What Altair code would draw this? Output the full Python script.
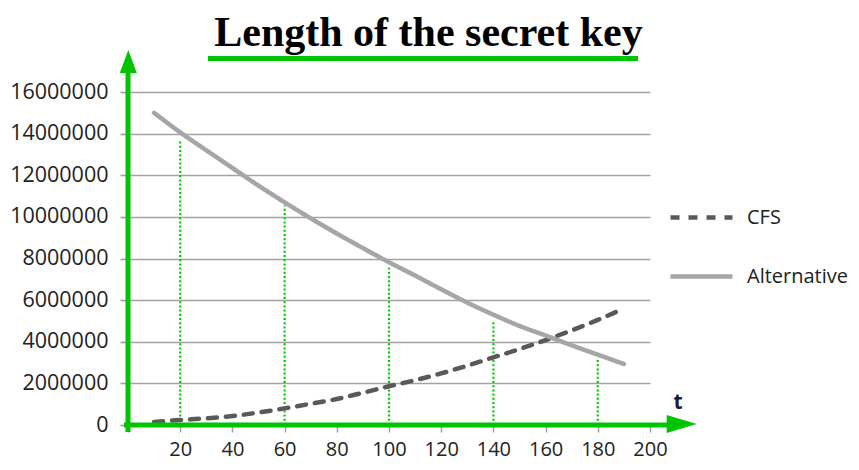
import altair as alt
import pandas as pd

# ---- data ----
t_vals = [10, 20, 30, 40, 50, 60, 70, 80, 90, 100, 110, 120, 130, 140, 150, 160, 170, 180, 190]
cfs_vals = [150000, 240000, 320000, 430000, 600000, 800000, 1020000, 1250000, 1550000, 1860000,
            2150000, 2480000, 2850000, 3250000, 3650000, 4080000, 4550000, 5050000, 5600000]
alt_vals = [15000000, 14060000, 13200000, 12350000, 11500000, 10700000, 9930000, 9200000, 8500000,
            7820000, 7180000, 6520000, 5880000, 5300000, 4760000, 4300000, 3830000, 3380000, 2930000]
series_names = ["CFS", "Alternative"]
guide_t = [20, 60, 100, 140, 180]
guide_top = [13700000, 10550000, 7550000, 5000000, 3120000]
x_ticks = [0, 20, 40, 60, 80, 100, 120, 140, 160, 180, 200]
y_ticks = [0, 2000000, 4000000, 6000000, 8000000, 10000000, 12000000, 14000000, 16000000]
title_text = "Length of the secret key"
axis_letter = "t"

GREEN = "#00c400"
GRID = "#a3a3a3"
LABEL = "#222222"

rows = []
for t, v in zip(t_vals, cfs_vals):
    rows.append({"t": t, "value": v, "series": "CFS"})
for t, v in zip(t_vals, alt_vals):
    rows.append({"t": t, "value": v, "series": "Alternative"})
df = pd.DataFrame(rows)
guides = pd.DataFrame({"t": guide_t, "value": [0] * len(guide_t), "top": guide_top})
one = pd.DataFrame({"k": [0]})

x_scale = alt.Scale(domain=[0, 200], nice=False, zero=False)
y_scale = alt.Scale(domain=[0, 16000000], nice=False)

x_axis = alt.Axis(values=x_ticks, title=None, grid=False, domain=False,
                  tickColor=GRID, tickSize=7, tickWidth=1.5,
                  labelExpr="datum.value == 0 ? '' : datum.label",
                  labelFont="Open Sans", labelFontSize=20, labelColor=LABEL,
                  labelPadding=7, labelFlush=False, labelOverlap=False)
y_axis = alt.Axis(values=y_ticks, format="d", title=None, domain=False,
                  grid=True, gridColor=GRID, gridWidth=1.7,
                  tickColor=GRID, tickSize=8, tickWidth=1.7,
                  labelFont="Open Sans", labelFontSize=21.5, labelColor=LABEL,
                  labelPadding=12, labelFlush=False, labelOverlap=False)

X = alt.X("t:Q", scale=x_scale, axis=x_axis)
Y = alt.Y("value:Q", scale=y_scale, axis=y_axis)

legend = alt.Legend(orient="none", legendX=540, legendY=92, symbolType="stroke",
                    symbolSize=3844, symbolStrokeWidth=4.5, labelFont="Open Sans",
                    labelFontSize=20, labelColor=LABEL, labelOffset=12,
                    rowPadding=15, padding=0, title=None)

guide_rules = alt.Chart(guides).mark_rule(color="#00cc00", strokeWidth=2.2, strokeDash=[2, 2.2]).encode(
    x=X, y=Y, y2="top:Q"
)

lines = alt.Chart(df).mark_line(strokeWidth=4.5, strokeCap="round", interpolate="monotone").encode(
    x=X, y=Y,
    color=alt.Color("series:N", scale=alt.Scale(domain=series_names, range=["#595959", "#a6a6a6"]),
                    legend=legend),
    strokeDash=alt.StrokeDash("series:N", scale=alt.Scale(domain=series_names, range=[[9, 9], [1, 0]]),
                              legend=legend),
)

y_axis_line = alt.Chart(one).mark_rule(color=GREEN, strokeWidth=5).encode(
    x=alt.value(0), y=alt.value(340), y2=alt.value(-19)
)
x_axis_line = alt.Chart(one).mark_rule(color=GREEN, strokeWidth=5).encode(
    x=alt.value(-4), x2=alt.value(540), y=alt.value(333)
)
up_head = alt.Chart(one).mark_point(shape="M0,-1L0.74,1L-0.74,1Z", filled=True, size=529,
                                    color=GREEN, opacity=1).encode(
    x=alt.value(0.3), y=alt.value(-30.5)
)
right_head = alt.Chart(one).mark_point(shape="M1,0L-1,-0.6L-1,0.6Z", filled=True, size=900,
                                       color=GREEN, opacity=1).encode(
    x=alt.value(553.7), y=alt.value(332)
)
title = alt.Chart(one).mark_text(text=title_text, font="Liberation Serif", fontSize=42,
                                 fontWeight="bold", align="center", baseline="alphabetic",
                                 color="#000000").encode(
    x=alt.value(300.5), y=alt.value(-46.5)
)
underline = alt.Chart(one).mark_rule(color=GREEN, strokeWidth=5).encode(
    x=alt.value(80), x2=alt.value(510), y=alt.value(-33.5)
)
t_label = alt.Chart(one).mark_text(text=axis_letter, font="Open Sans", fontSize=21, fontWeight="bold",
                                   align="center", baseline="middle", color="#1a1a3a").encode(
    x=alt.value(550), y=alt.value(311)
)

chart = alt.layer(
    guide_rules, lines, y_axis_line, x_axis_line, up_head, right_head, title, underline, t_label
).properties(
    width=522, height=333,
    padding={"left": 120, "top": 84, "right": 201, "bottom": 36},
    autosize="none", background="white"
).configure_view(strokeWidth=0)

chart.save("out.html", embed_options={"renderer": "svg", "actions": False})
